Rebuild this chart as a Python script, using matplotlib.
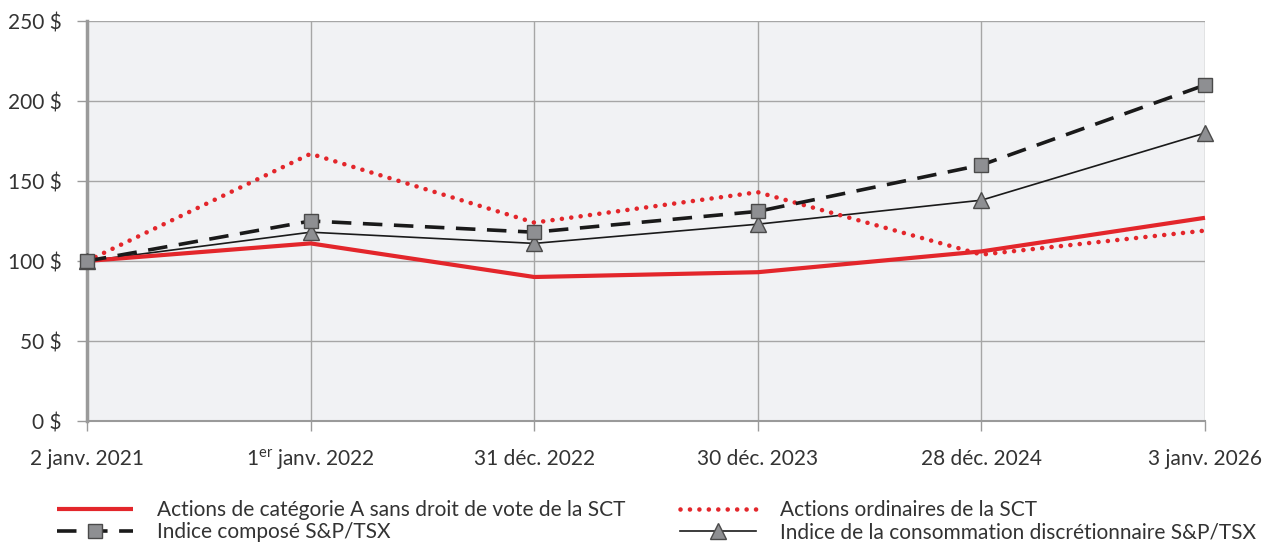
import matplotlib
matplotlib.use("Agg")
import matplotlib.pyplot as plt

plt.rcParams['font.family'] = ['Lato', 'DejaVu Sans']

dates = ["2 janv. 2021", "1$^{\\mathregular{er}}$ janv. 2022", "31 déc. 2022",
         "30 déc. 2023", "28 déc. 2024", "3 janv. 2026"]
sct_a = [100, 111, 90, 93, 106, 127]
sct_ord = [100, 167, 124, 143, 104, 119]
tsx_comp = [100, 125, 118, 131, 160, 210]
tsx_conso = [100, 118, 111, 123, 138, 180]
y_ticks = [0, 50, 100, 150, 200, 250]
y_labels = ["0 $", "50 $", "100 $", "150 $", "200 $", "250 $"]
names = ["Actions de catégorie A sans droit de vote de la SCT",
         "Indice composé S&P/TSX",
         "Actions ordinaires de la SCT",
         "Indice de la consommation discrétionnaire S&P/TSX"]

RED = "#e3262b"
GREY_M = "#8e8f92"
TXT = "#333333"
GRID = "#a6a6a6"
FS = 15

fig = plt.figure(figsize=(12.72, 5.42), dpi=100)
ax = fig.add_axes([87/1272, 1-421/542, (1205-87)/1272, (421-21)/542])
ax.set_facecolor("#f1f2f4")
x = list(range(len(dates)))

l_conso, = ax.plot(x, tsx_conso, color="#1a1a1a", lw=1.2, marker="^", markersize=11,
                   markerfacecolor=GREY_M, markeredgecolor="#4a4a4a", markeredgewidth=1, zorder=3,
                   clip_on=False)
l_a, = ax.plot(x, sct_a, color=RED, lw=3, zorder=4, clip_on=False, solid_capstyle='butt')
l_ord, = ax.plot(x, sct_ord, color=RED, lw=3.3, linestyle=(0, (0.01, 2.05)), dash_capstyle='round',
                 zorder=5, clip_on=False)
l_comp, = ax.plot(x, tsx_comp, color="#1a1a1a", lw=2.6, linestyle=(0, (5.4, 3.2)),
                  marker="s", markersize=10, markerfacecolor=GREY_M, markeredgecolor="#4a4a4a",
                  markeredgewidth=1, zorder=6, clip_on=False)

ax.set_xlim(0, 5)
ax.set_ylim(0, 250)
ax.set_xticks(x)
ax.set_xticklabels(dates)
ax.set_yticks(y_ticks)
ax.set_yticklabels(y_labels)
ax.grid(True, color=GRID, lw=1)
ax.set_axisbelow(True)
for s in ["top", "right"]:
    ax.spines[s].set_visible(False)
ax.spines["left"].set_color("#9a9a9a")
ax.spines["left"].set_linewidth(2.5)
ax.spines["bottom"].set_color("#9a9a9a")
ax.spines["bottom"].set_linewidth(1.5)
ax.tick_params(axis="y", length=7, width=1, color="#9a9a9a", pad=11, labelsize=FS, labelcolor=TXT)
ax.tick_params(axis="x", length=7, width=1, color="#9a9a9a", pad=25, labelsize=FS, labelcolor=TXT)
for lab in ax.get_xticklabels():
    lab.set_verticalalignment("baseline")

common = dict(loc="upper left", frameon=False, fontsize=FS, handlelength=3.65, handletextpad=1.15,
              labelspacing=0.1, borderpad=0, borderaxespad=0, labelcolor=TXT)
fig.legend([l_a, l_comp], names[:2], bbox_to_anchor=(57/1272, 1-500/542), **common)
fig.legend([l_ord, l_conso], names[2:], bbox_to_anchor=(680/1272, 1-500/542), **common)

fig.savefig("out.png", dpi=100)
